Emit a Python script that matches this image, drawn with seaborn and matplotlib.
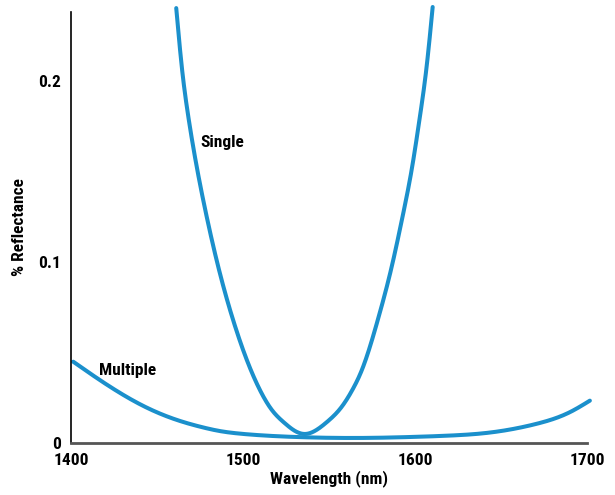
import pandas as pd
import numpy as np
import seaborn as sns
import matplotlib.pyplot as plt

# Values
single_wl = [1461.2, 1464.4, 1468.2, 1473.1, 1478.9, 1485.6, 1494.4, 1503, 1510,
             1517, 1524, 1530, 1536, 1542, 1548.7, 1557, 1564, 1569, 1578.7,
             1586.5, 1592.8, 1598.4, 1602.9, 1606.8, 1610.3]
single_refl = [0.2401, 0.2079, 0.1803, 0.1526, 0.1250, 0.0974, 0.0675, 0.0440, 0.0290,
               0.0180, 0.0112, 0.0068, 0.0050, 0.0068, 0.0115, 0.0195, 0.0300, 0.0400, 0.0690,
               0.0974, 0.1250, 0.1526, 0.1803, 0.2079, 0.2407]

multi_wl = [1401.3, 1418.8, 1430, 1442, 1455, 1465.3, 1476, 1486.6, 1498, 1509.9,
            1535, 1568, 1600, 1620, 1640, 1655, 1670.7, 1690, 1701.7]
multi_refl = [0.0449, 0.0335, 0.0268, 0.0205, 0.0150, 0.0116, 0.0088, 0.0066, 0.0052, 0.0043,
              0.0032, 0.0028, 0.0034, 0.0041, 0.0054, 0.0074, 0.0106, 0.0170, 0.0234]

x_ticks = [1400, 1500, 1600, 1700]
y_ticks = [0, 0.1, 0.2]
y_tick_labels = ['0', '0.1', '0.2']

sns.set_style('white')
plt.rcParams['font.family'] = ['Roboto Condensed', 'Archivo Narrow', 'DejaVu Sans']
plt.rcParams['text.color'] = 'black'

line_color = '#1b90cc'
fs = 12.5


def natural_spline(xs, ys, n=600):
    # natural cubic spline through the traced points (no scipy here)
    x = np.asarray(xs, float)
    y = np.asarray(ys, float)
    h = np.diff(x)
    m = len(x)
    A = np.zeros((m, m))
    b = np.zeros(m)
    A[0, 0] = A[-1, -1] = 1
    for i in range(1, m - 1):
        A[i, i - 1] = h[i - 1]
        A[i, i] = 2 * (h[i - 1] + h[i])
        A[i, i + 1] = h[i]
        b[i] = 6 * ((y[i + 1] - y[i]) / h[i] - (y[i] - y[i - 1]) / h[i - 1])
    M = np.linalg.solve(A, b)
    xx = np.linspace(x[0], x[-1], n)
    k = np.clip(np.searchsorted(x, xx) - 1, 0, m - 2)
    dx0 = xx - x[k]
    dx1 = x[k + 1] - xx
    hk = h[k]
    yy = (M[k] * dx1 ** 3 + M[k + 1] * dx0 ** 3) / (6 * hk) \
        + (y[k] / hk - M[k] * hk / 6) * dx1 + (y[k + 1] / hk - M[k + 1] * hk / 6) * dx0
    return xx, yy


df = pd.concat([
    pd.DataFrame({'wl': single_wl, 'refl': single_refl, 'coating': 'Single'}),
    pd.DataFrame({'wl': multi_wl, 'refl': multi_refl, 'coating': 'Multiple'}),
])

fig = plt.figure(figsize=(6.15, 4.95), dpi=100)
ax = fig.add_axes([0.1154, 0.105, 0.839, 0.871])

for name, part in df.groupby('coating'):
    xx, yy = natural_spline(part['wl'], part['refl'])
    sns.lineplot(x=xx, y=yy, ax=ax, color=line_color, linewidth=2.9,
                 sort=False, estimator=None, clip_on=False, legend=False)

ax.set_xlim(1400, 1700)
ax.set_ylim(0, 0.238)
ax.set_xticks(x_ticks)
ax.set_yticks(y_ticks)
ax.set_yticklabels(y_tick_labels)

for s in ['top', 'right']:
    ax.spines[s].set_visible(False)
ax.spines['left'].set_color('black')
ax.spines['bottom'].set_color('#555555')
ax.spines['left'].set_linewidth(1.2)
ax.spines['bottom'].set_linewidth(2)

ax.tick_params(axis='both', direction='inout', length=8, width=1.2, color='#222222',
               labelsize=fs, labelcolor='black', pad=3)
for lbl in ax.get_xticklabels() + ax.get_yticklabels():
    lbl.set_fontweight('bold')

ax.set_xlabel('Wavelength (nm)', fontsize=fs, fontweight='bold', labelpad=2, color='black')
ax.set_ylabel('% Reflectance', fontsize=fs, fontweight='bold', labelpad=8, color='black')

ax.text(1475.5, 0.1657, 'Single', fontsize=fs, fontweight='bold', va='center', ha='left')
ax.text(1416.5, 0.040, 'Multiple', fontsize=fs, fontweight='bold', va='center', ha='left')

fig.savefig('out.png', dpi=100)
